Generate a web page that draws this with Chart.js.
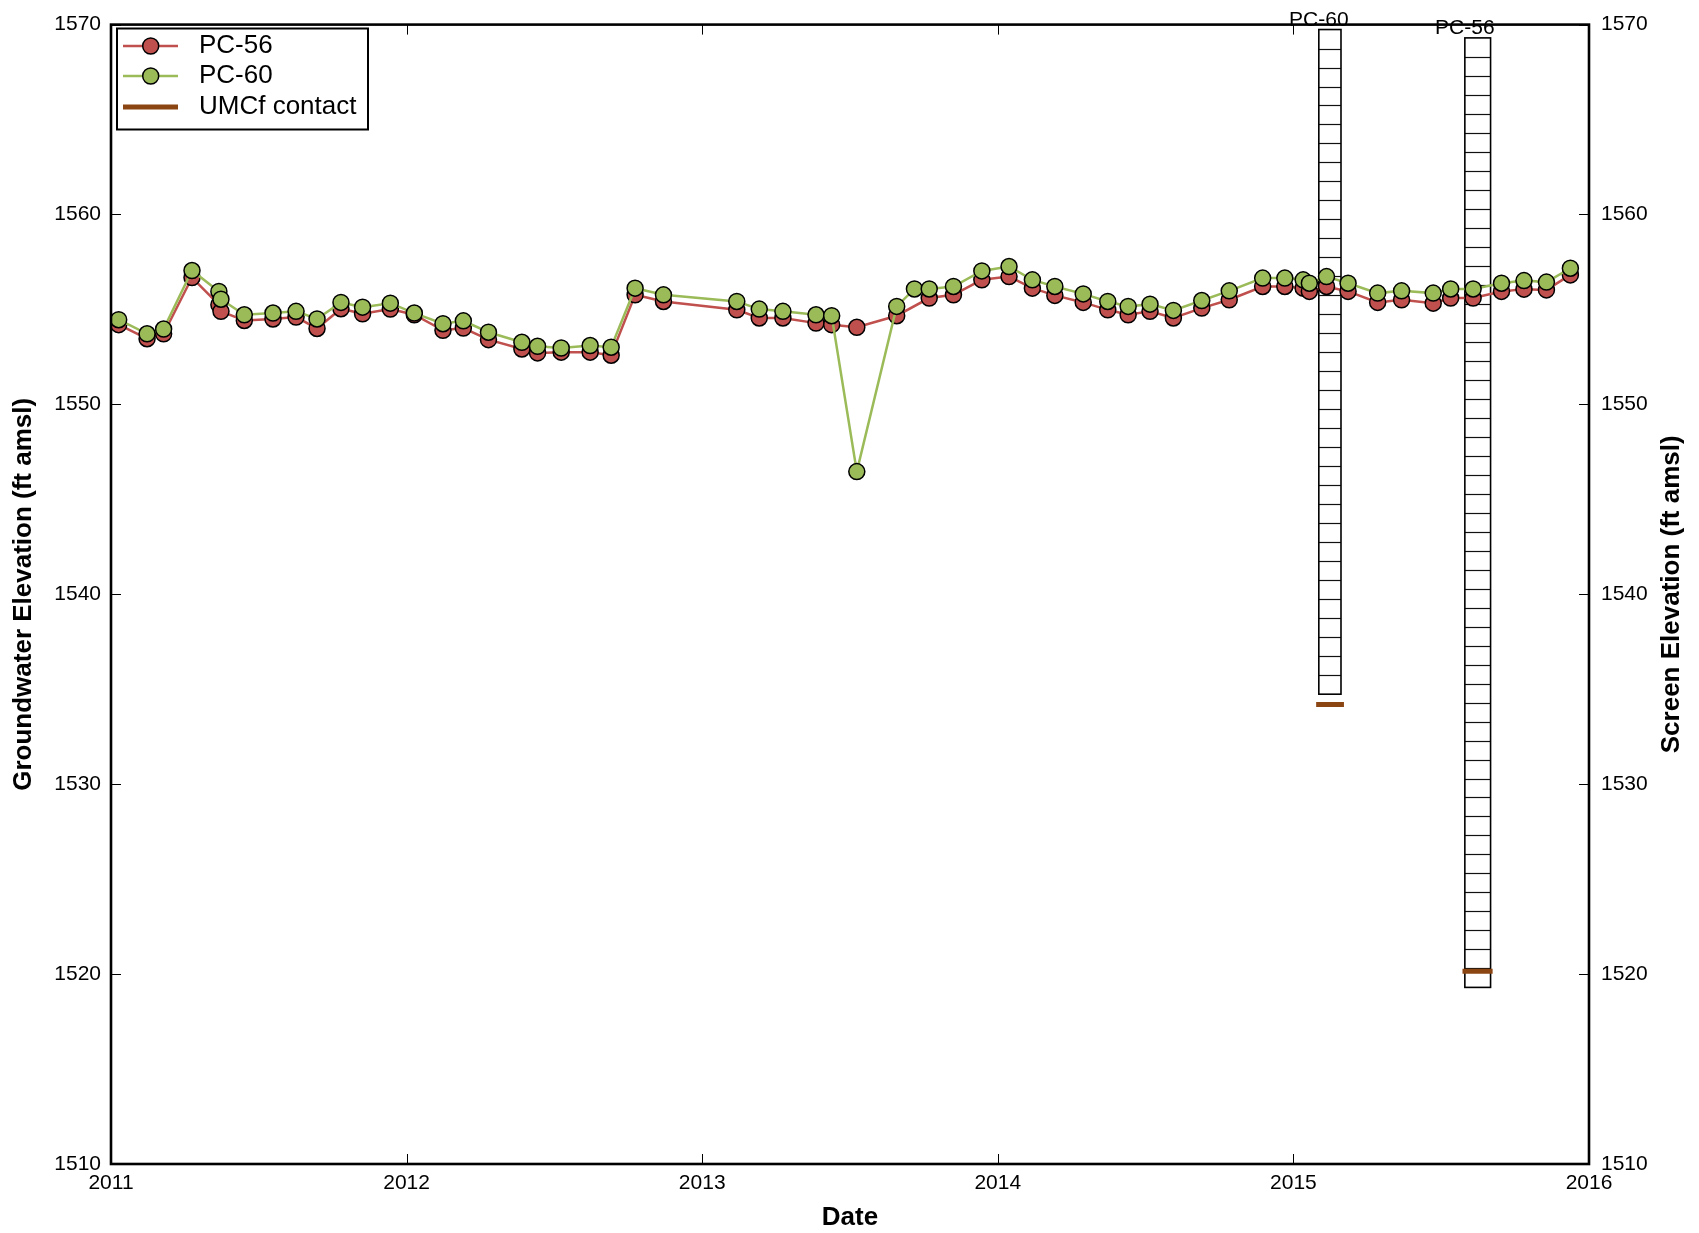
<!DOCTYPE html>
<html>
<head>
<meta charset="utf-8">
<title>Groundwater Elevation PC-56 / PC-60</title>
<script src="https://cdn.jsdelivr.net/npm/chart.js@4"></script>
<style>
  html, body { margin: 0; padding: 0; background: #fff; }
  canvas { display: block; }
</style>
</head>
<body>
<canvas id="chart" width="1699" height="1233"></canvas>
<script>
/* Hydrograph: groundwater elevation at PC-56 / PC-60 with screen columns.
   Dates are decimal years. */

// ---------- data ----------
const DATES_56 = [
  2011.026, 2011.122, 2011.178, 2011.274, 2011.365, 2011.372, 2011.451, 2011.548, 2011.626, 2011.697,
  2011.778, 2011.851, 2011.945, 2012.026, 2012.123, 2012.192, 2012.277, 2012.390, 2012.443, 2012.523,
  2012.621, 2012.692, 2012.773, 2012.869, 2013.117, 2013.193, 2013.273, 2013.385, 2013.438, 2013.523,
  2013.658, 2013.768, 2013.850, 2013.946, 2014.038, 2014.117, 2014.193, 2014.289, 2014.372, 2014.441,
  2014.515, 2014.594, 2014.690, 2014.783, 2014.896, 2014.971, 2015.033, 2015.054, 2015.112, 2015.185,
  2015.285, 2015.366, 2015.473, 2015.532, 2015.608, 2015.704, 2015.780, 2015.856, 2015.937,
];
const ELEV_56 = [
  1554.20, 1553.46, 1553.72, 1556.68, 1555.25, 1554.90, 1554.42, 1554.50, 1554.60, 1554.00,
  1555.04, 1554.77, 1555.02, 1554.72, 1553.90, 1554.02, 1553.41, 1552.92, 1552.71, 1552.75,
  1552.75, 1552.59, 1555.77, 1555.42, 1554.98, 1554.55, 1554.55, 1554.28, 1554.20, 1554.06,
  1554.67, 1555.60, 1555.77, 1556.56, 1556.73, 1556.12, 1555.74, 1555.37, 1554.98, 1554.72,
  1554.90, 1554.55, 1555.07, 1555.51, 1556.21, 1556.21, 1556.12, 1555.95, 1556.21, 1555.95,
  1555.37, 1555.51, 1555.33, 1555.60, 1555.60, 1555.95, 1556.07, 1556.03, 1556.82,
];

const DATES_60 = [
  2011.026, 2011.122, 2011.178, 2011.274, 2011.365, 2011.372, 2011.451, 2011.548, 2011.626, 2011.697,
  2011.778, 2011.851, 2011.945, 2012.026, 2012.123, 2012.192, 2012.277, 2012.390, 2012.443, 2012.523,
  2012.621, 2012.692, 2012.773, 2012.869, 2013.117, 2013.193, 2013.273, 2013.385, 2013.438, 2013.523,
  2013.658, 2013.718, 2013.768, 2013.850, 2013.946, 2014.038, 2014.117, 2014.193, 2014.289, 2014.372,
  2014.441, 2014.515, 2014.594, 2014.690, 2014.783, 2014.896, 2014.971, 2015.033, 2015.054, 2015.112,
  2015.185, 2015.285, 2015.366, 2015.473, 2015.532, 2015.608, 2015.704, 2015.780, 2015.856, 2015.937,
];
const ELEV_60 = [
  1554.46, 1553.72, 1553.97, 1557.05, 1555.95, 1555.54, 1554.72, 1554.81, 1554.90, 1554.50,
  1555.37, 1555.12, 1555.33, 1554.81, 1554.25, 1554.40, 1553.80, 1553.27, 1553.06, 1552.97,
  1553.10, 1553.01, 1556.12, 1555.77, 1555.42, 1555.02, 1554.90, 1554.72, 1554.67, 1546.46,
  1555.16, 1556.08, 1556.08, 1556.21, 1557.03, 1557.26, 1556.56, 1556.21, 1555.82, 1555.42,
  1555.16, 1555.28, 1554.95, 1555.47, 1555.98, 1556.65, 1556.65, 1556.56, 1556.38, 1556.73,
  1556.38, 1555.86, 1555.98, 1555.86, 1556.08, 1556.08, 1556.38, 1556.52, 1556.44, 1557.17,
];

// screen columns (drawn against the right "Screen Elevation" axis)
const SCREEN_WELLS = ["PC-60", "PC-56"];
const SCREEN_LEFT = [2015.086, 2015.580];
const SCREEN_RIGHT = [2015.161, 2015.667];
const SCREEN_TOP = [1569.74, 1569.30];
const SCREEN_BOTTOM = [1534.74, 1519.30];

// UMCf contact marks under each screen
const CONTACT_LEFT = [2015.077, 2015.572];
const CONTACT_RIGHT = [2015.171, 2015.674];
const CONTACT_ELEV = [1534.20, 1520.15];

const X_TICKS = [2011, 2012, 2013, 2014, 2015, 2016];
const Y_TICKS = [1510, 1520, 1530, 1540, 1550, 1560, 1570];

const COLORS = {
  pc56: "#c0504d",
  pc60: "#9bbb59",
  contact: "#8b4513",
};
const FONT = '"Liberation Sans", Arial, Helvetica, sans-serif';

// ---------- helpers ----------
const toPoints = (xs, ys) => xs.map((x, i) => ({ x, y: ys[i] }));

function contactPoints() {
  const pts = [];
  CONTACT_ELEV.forEach((e, i) => {
    if (i > 0) pts.push({ x: (CONTACT_RIGHT[i - 1] + CONTACT_LEFT[i]) / 2, y: null });
    pts.push({ x: CONTACT_LEFT[i], y: e }, { x: CONTACT_RIGHT[i], y: e });
  });
  return pts;
}

function seriesDataset(label, xs, ys, color, order) {
  return {
    label,
    data: toPoints(xs, ys),
    borderColor: color,
    backgroundColor: color,
    borderWidth: 2.5,
    pointRadius: 8,
    pointHoverRadius: 8,
    pointBackgroundColor: color,
    pointBorderColor: "#000",
    pointBorderWidth: 1.5,
    tension: 0,
    order,
  };
}

// ---------- extra drawing: screens, frame, inward ticks, legend ----------
const screensPlugin = {
  id: "screens",
  beforeDatasetsDraw(chart) {
    const { ctx } = chart;
    const xs = chart.scales.x, ys = chart.scales.y2;
    ctx.save();
    SCREEN_WELLS.forEach((name, i) => {
      const x0 = xs.getPixelForValue(SCREEN_LEFT[i]);
      const x1 = xs.getPixelForValue(SCREEN_RIGHT[i]);
      const yTop = ys.getPixelForValue(SCREEN_TOP[i]);
      const yBot = ys.getPixelForValue(SCREEN_BOTTOM[i]);
      ctx.strokeStyle = "#111";
      ctx.lineWidth = 1.2;
      for (let e = SCREEN_BOTTOM[i] + 1; e < SCREEN_TOP[i] - 0.01; e += 1) {
        const y = Math.round(ys.getPixelForValue(e)) + 0.5;
        ctx.beginPath();
        ctx.moveTo(x0, y);
        ctx.lineTo(x1, y);
        ctx.stroke();
      }
      ctx.lineWidth = 1.6;
      ctx.strokeStyle = "#000";
      ctx.strokeRect(x0, yTop, x1 - x0, yBot - yTop);
      ctx.fillStyle = "#000";
      ctx.font = `21px ${FONT}`;
      ctx.textAlign = "center";
      ctx.textBaseline = "alphabetic";
      ctx.fillText(name, x0, yTop - 4);
    });
    ctx.restore();
  },
  afterDraw(chart) {
    const { ctx, chartArea: a } = chart;
    const xs = chart.scales.x, ys = chart.scales.y;
    ctx.save();
    // inward ticks on all four sides
    ctx.strokeStyle = "#000";
    ctx.lineWidth = 1;
    ctx.beginPath();
    X_TICKS.forEach((t) => {
      const x = Math.round(xs.getPixelForValue(t)) + 0.5;
      ctx.moveTo(x, a.bottom); ctx.lineTo(x, a.bottom - 10);
      ctx.moveTo(x, a.top); ctx.lineTo(x, a.top + 10);
    });
    Y_TICKS.forEach((t) => {
      const y = Math.round(ys.getPixelForValue(t)) + 0.5;
      ctx.moveTo(a.left, y); ctx.lineTo(a.left + 10, y);
      ctx.moveTo(a.right, y); ctx.lineTo(a.right - 10, y);
    });
    ctx.stroke();
    // frame
    ctx.lineWidth = 2.6;
    ctx.strokeRect(a.left, a.top, a.right - a.left, a.bottom - a.top);

    // right axis title (reads bottom-to-top like the left one)
    ctx.font = `bold 26px ${FONT}`;
    ctx.fillStyle = "#000";
    ctx.textAlign = "center";
    ctx.textBaseline = "middle";
    ctx.translate(1672, (a.top + a.bottom) / 2);
    ctx.rotate(-Math.PI / 2);
    ctx.fillText("Screen Elevation (ft amsl)", 0, 0);
    ctx.setTransform(1, 0, 0, 1, 0, 0);

    // legend
    const bx = 117, by = 28.5, bw = 251, bh = 101;
    ctx.fillStyle = "#fff";
    ctx.fillRect(bx, by, bw, bh);
    ctx.lineWidth = 2;
    ctx.strokeStyle = "#000";
    ctx.strokeRect(bx, by, bw, bh);
    const rows = [
      { label: "PC-56", color: COLORS.pc56, marker: true, y: 46 },
      { label: "PC-60", color: COLORS.pc60, marker: true, y: 76 },
      { label: "UMCf contact", color: COLORS.contact, marker: false, y: 107 },
    ];
    rows.forEach((r) => {
      ctx.strokeStyle = r.color;
      ctx.lineWidth = r.marker ? 2.5 : 5;
      ctx.beginPath();
      ctx.moveTo(123, r.y);
      ctx.lineTo(178, r.y);
      ctx.stroke();
      if (r.marker) {
        ctx.beginPath();
        ctx.arc(150.7, r.y, 8, 0, Math.PI * 2);
        ctx.fillStyle = r.color;
        ctx.fill();
        ctx.lineWidth = 1.5;
        ctx.strokeStyle = "#000";
        ctx.stroke();
      }
      ctx.fillStyle = "#000";
      ctx.font = `26px ${FONT}`;
      ctx.textAlign = "left";
      ctx.textBaseline = "middle";
      ctx.fillText(r.label, 199, r.y);
    });
    ctx.restore();
  },
};

// ---------- chart ----------
Chart.defaults.font.family = FONT;
Chart.defaults.color = "#000";

const noGrid = { display: false, drawTicks: false, tickLength: 0 };
const yTickOpts = (pad) => ({
  stepSize: 10,
  padding: pad,
  font: { size: 21 },
  callback: (v) => String(v),
});

new Chart(document.getElementById("chart"), {
  type: "line",
  data: {
    datasets: [
      {
        label: "UMCf contact",
        data: contactPoints(),
        borderColor: COLORS.contact,
        borderWidth: 5,
        borderCapStyle: "butt",
        pointRadius: 0,
        pointHoverRadius: 0,
        spanGaps: false,
        yAxisID: "y2",
        order: 0,
      },
      seriesDataset("PC-60", DATES_60, ELEV_60, COLORS.pc60, 1),
      seriesDataset("PC-56", DATES_56, ELEV_56, COLORS.pc56, 2),
    ],
  },
  options: {
    responsive: false,
    animation: false,
    devicePixelRatio: 1,
    events: [],
    layout: { padding: { top: 21, left: 0, right: 0, bottom: 0 } },
    plugins: { legend: { display: false }, tooltip: { enabled: false } },
    scales: {
      x: {
        type: "linear",
        position: "bottom",
        min: 2011,
        max: 2016,
        grid: noGrid,
        border: { display: false },
        ticks: { stepSize: 1, padding: 7, maxRotation: 0, autoSkip: false, font: { size: 21 }, callback: (v) => String(v) },
        title: { display: true, text: "Date", font: { size: 26, weight: "bold" }, padding: { top: 0, bottom: 0 } },
        afterFit: (s) => { s.height = 69; },
      },
      y: {
        position: "left",
        min: 1510,
        max: 1570,
        grid: noGrid,
        border: { display: false },
        ticks: yTickOpts(10),
        title: {
          display: true,
          text: "Groundwater Elevation (ft amsl)",
          font: { size: 26, weight: "bold" },
          padding: { top: 8, bottom: 0 },
        },
        afterFit: (s) => { s.width = 111; },
      },
      y2: {
        position: "right",
        min: 1510,
        max: 1570,
        grid: noGrid,
        border: { display: false },
        ticks: yTickOpts(12),
        afterFit: (s) => { s.width = 110; },
      },
    },
  },
  plugins: [screensPlugin],
});
</script>
</body>
</html>
